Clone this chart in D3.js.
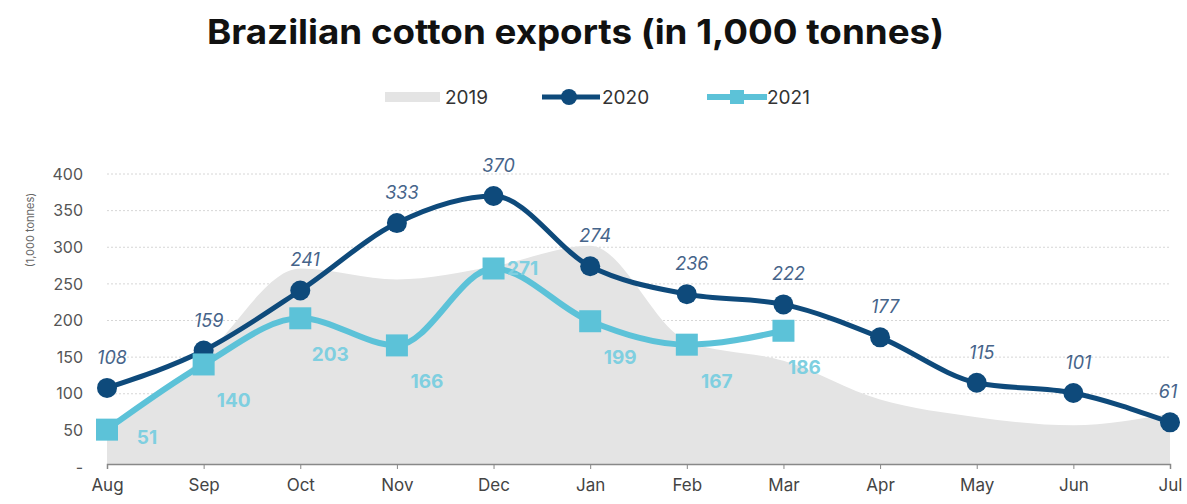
<!DOCTYPE html>
<html>
<head>
<meta charset="utf-8">
<script src="https://cdn.jsdelivr.net/npm/d3@7"></script>
<style>
  body { margin: 0; background: #fff; }
  svg { font-family: "Inter", "Open Sans", sans-serif; }
</style>
</head>
<body>
<div id="chart"></div>
<script>
const months = ["Aug", "Sep", "Oct", "Nov", "Dec", "Jan", "Feb", "Mar", "Apr", "May", "Jun", "Jul"];
const exports2019 = [45, 150, 271, 256, 274, 302, 172, 145, 92, 68, 57, 73];
const exports2020 = [108, 159, 241, 333, 370, 274, 236, 222, 177, 115, 101, 61];
const exports2021 = [51, 140, 203, 166, 271, 199, 167, 186];
const yTicks = [0, 50, 100, 150, 200, 250, 300, 350, 400];

const width = 1187, height = 504;
const margin = { left: 107, right: 17, top: 174, bottom: 37 };

const svg = d3.select("#chart").append("svg")
    .attr("width", width)
    .attr("height", height);

const x = d3.scalePoint()
    .domain(months)
    .range([margin.left, width - margin.right]);

const y = d3.scaleLinear()
    .domain([0, 400])
    .range([height - margin.bottom, margin.top]);

// title
svg.append("text")
    .attr("x", 207)
    .attr("y", 44)
    .attr("font-size", 34)
    .attr("font-weight", 700)
    .attr("fill", "#111")
    .attr("textLength", 737)
    .attr("lengthAdjust", "spacingAndGlyphs")
    .text("Brazilian cotton exports (in 1,000 tonnes)");

// gridlines
svg.append("g")
    .selectAll("line")
    .data(yTicks.filter(d => d > 0))
    .join("line")
    .attr("x1", margin.left)
    .attr("x2", width - margin.right)
    .attr("y1", d => y(d))
    .attr("y2", d => y(d))
    .attr("stroke", "#d6d6d6")
    .attr("stroke-width", 1)
    .attr("stroke-dasharray", "2,2");

// y axis labels
const yAxis = d3.axisLeft(y)
    .tickValues(yTicks)
    .tickSize(0)
    .tickPadding(0)
    .tickFormat(d => d === 0 ? "-" : d);

svg.append("g")
    .attr("transform", "translate(83,0)")
    .call(yAxis)
    .call(g => g.select(".domain").remove())
    .call(g => g.selectAll("text")
        .attr("font-size", 16)
        .attr("fill", "#555")
        .attr("font-family", "Inter, sans-serif"));

svg.append("text")
    .attr("transform", "translate(34,230) rotate(-90)")
    .attr("text-anchor", "middle")
    .attr("font-size", 11)
    .attr("fill", "#666")
    .text("(1,000 tonnes)");

// 2019 area
const area = d3.area()
    .x((d, i) => x(months[i]))
    .y0(y(0) - 3)
    .y1(d => y(d))
    .curve(d3.curveMonotoneX);

svg.append("path")
    .datum(exports2019)
    .attr("d", area)
    .attr("fill", "#e4e4e4");

// x axis
const xAxis = d3.axisBottom(x)
    .tickSize(5)
    .tickPadding(10);

svg.append("g")
    .attr("transform", `translate(0,${y(0) - 3})`)
    .call(xAxis)
    .call(g => g.select(".domain").attr("stroke", "#888").attr("stroke-width", 1.5))
    .call(g => g.selectAll(".tick line").attr("stroke", "#888"))
    .call(g => g.selectAll("text")
        .attr("font-size", 17)
        .attr("fill", "#444")
        .attr("font-family", "Inter, sans-serif"));

const line = d3.line()
    .x((d, i) => x(months[i]))
    .y(d => y(d))
    .curve(d3.curveMonotoneX);

const c2020 = "#0e4a7b";
const c2021 = "#5cc2d8";

// 2020
svg.append("path")
    .datum(exports2020)
    .attr("d", line)
    .attr("fill", "none")
    .attr("stroke", c2020)
    .attr("stroke-width", 5);

svg.append("g")
    .selectAll("circle")
    .data(exports2020)
    .join("circle")
    .attr("cx", (d, i) => x(months[i]))
    .attr("cy", d => y(d))
    .attr("r", 10)
    .attr("fill", c2020);

svg.append("g")
    .selectAll("text")
    .data(exports2020)
    .join("text")
    .attr("x", (d, i) => x(months[i]) + (i === 11 ? -2 : 5))
    .attr("y", d => y(d) - 24)
    .attr("text-anchor", "middle")
    .attr("font-size", 18)
    .attr("font-style", "italic")
    .attr("fill", "#46648a")
    .text(d => d);

// 2021
svg.append("path")
    .datum(exports2021)
    .attr("d", line)
    .attr("fill", "none")
    .attr("stroke", c2021)
    .attr("stroke-width", 6);

svg.append("g")
    .selectAll("rect")
    .data(exports2021)
    .join("rect")
    .attr("x", (d, i) => x(months[i]) - 11)
    .attr("y", d => y(d) - 11)
    .attr("width", 22)
    .attr("height", 22)
    .attr("fill", c2021);

svg.append("g")
    .selectAll("text")
    .data(exports2021)
    .join("text")
    .attr("x", (d, i) => x(months[i]) + (i === 0 ? 40 : i === 4 ? 29 : i === 7 ? 21 : 30))
    .attr("y", (d, i) => y(d) + (i === 0 ? 14 : i === 4 ? 7 : 43))
    .attr("text-anchor", "middle")
    .attr("font-size", 19)
    .attr("font-weight", 700)
    .attr("fill", "#7fcfe0")
    .text(d => d);

// legend
const legend = svg.append("g").attr("font-size", 19).attr("fill", "#333");

legend.append("rect")
    .attr("x", 385).attr("y", 92).attr("width", 55).attr("height", 10)
    .attr("fill", "#e4e4e4");
legend.append("text").attr("x", 445).attr("y", 104).attr("fill", "#333").text("2019");

legend.append("line")
    .attr("x1", 542).attr("x2", 600).attr("y1", 97).attr("y2", 97)
    .attr("stroke", c2020).attr("stroke-width", 5);
legend.append("circle").attr("cx", 569).attr("cy", 97).attr("r", 8).attr("fill", c2020);
legend.append("text").attr("x", 602).attr("y", 104).attr("fill", "#333").text("2020");

legend.append("line")
    .attr("x1", 707).attr("x2", 767).attr("y1", 97).attr("y2", 97)
    .attr("stroke", c2021).attr("stroke-width", 6);
legend.append("rect").attr("x", 730).attr("y", 90).attr("width", 14).attr("height", 14).attr("fill", c2021);
legend.append("text").attr("x", 767).attr("y", 104).attr("fill", "#333").text("2021");
</script>
</body>
</html>
